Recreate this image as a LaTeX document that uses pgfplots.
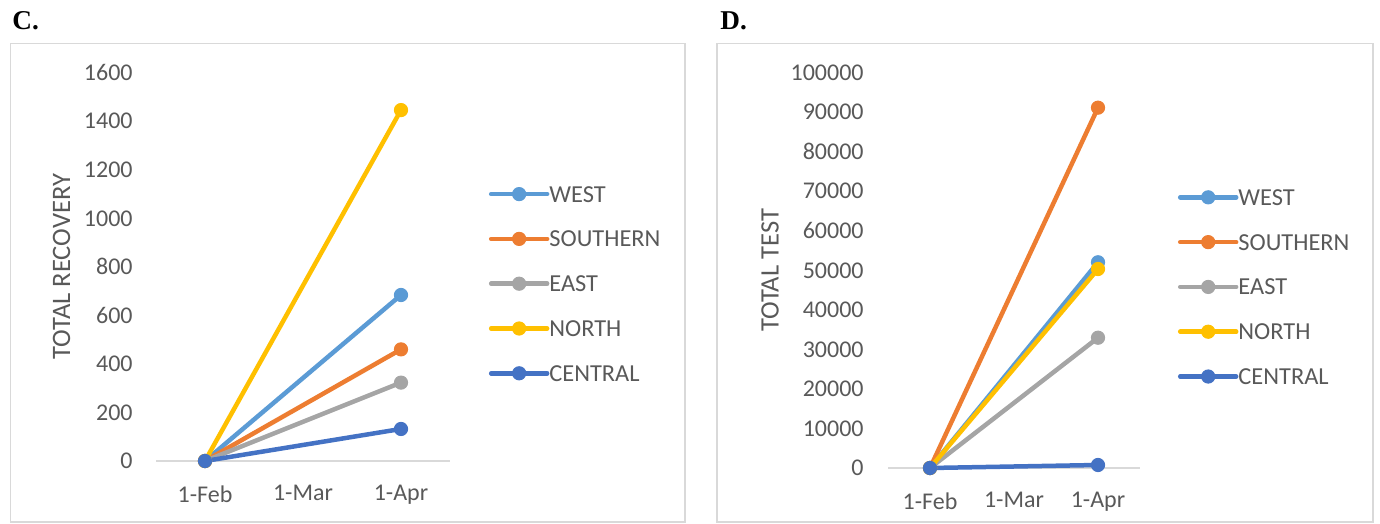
\documentclass[border=0pt]{standalone}
\usepackage{fontspec}
\setmainfont{Carlito}
\newfontfamily\titlefont{Liberation Serif}
\usepackage{pgfplots}
\pgfplotsset{compat=1.18}
\definecolor{cWest}{HTML}{5B9BD5}
\definecolor{cSouth}{HTML}{ED7D31}
\definecolor{cEast}{HTML}{A5A5A5}
\definecolor{cNorth}{HTML}{FFC000}
\definecolor{cCentral}{HTML}{4472C4}
\definecolor{txt}{HTML}{595959}
\definecolor{lgrey}{HTML}{D9D9D9}
\pgfplotsset{
 excel/.style={
  scale only axis, clip=false,
  axis lines*=left,
  y axis line style={draw=none},
  x axis line style={draw=lgrey, line width=0.75pt},
  major tick length=0pt,
  xmin=-0.5,xmax=2.5,ymin=0,
  xtick={0,1,2}, xticklabels={1-Feb,1-Mar,1-Apr},
  tick label style={font=\fontsize{12}{14}\selectfont, text=txt},
  /pgf/number format/assume math mode=true,
  /pgf/number format/fixed,
  /pgf/number format/precision=0,
  /pgf/number format/1000 sep={},
  scaled y ticks=false,
  yticklabel style={anchor=east, inner sep=0pt},
  xticklabel style={anchor=north, inner sep=0pt, yshift=-12pt},
  ylabel style={font=\fontsize{13.3}{15}\selectfont, text=txt, anchor=center},
  every axis plot/.append style={line width=2.25pt, line cap=round, line join=round, mark=*, mark size=3.3pt, mark options={solid, line width=0.5pt}},
  legend image code/.code={\draw[##1, mark repeat=2, mark phase=2] plot coordinates {(0pt,0pt) (14pt,0pt) (28pt,0pt)};},
  legend cell align=left,
  legend style={draw=none, fill=none, inner sep=0pt, row sep=14.4pt, column sep=0pt, font=\fontsize{12.2}{14}\selectfont, text=txt, nodes={inner sep=0pt, text height=8pt, text depth=0pt}, anchor=north west},
 }
}
\begin{document}
\begin{tikzpicture}
\useasboundingbox (0pt,0pt) rectangle (690pt,262pt);
\draw[lgrey, line width=0.75pt] (5.25pt,240.25pt) rectangle (342.5pt,1pt);
\draw[lgrey, line width=0.75pt] (358.5pt,240.25pt) rectangle (686.5pt,1pt);
\node[anchor=base west, inner sep=0pt, font=\titlefont\bfseries\fontsize{13.6}{15}\selectfont] at (6pt,247pt) {C.};
\node[anchor=base west, inner sep=0pt, font=\titlefont\bfseries\fontsize{13.6}{15}\selectfont] at (360pt,247pt) {D.};
\begin{axis}[excel, at={(78pt,31.5pt)}, anchor=south west,
  width=147pt, height=194.15pt, ymax=1600, ytick={0,200,...,1600},
  yticklabel style={xshift=-11.5pt},
  ylabel={TOTAL RECOVERY},
  ylabel style={at={(axis description cs:-0.321,0.5)}},
  legend style={at={(1.131,0.709)}}]
\addplot[cWest] coordinates {(0,0) (2,684)};
\addplot[cSouth] coordinates {(0,0) (2,460)};
\addplot[cEast] coordinates {(0,0) (2,323)};
\addplot[cNorth] coordinates {(0,0) (2,1446)};
\addplot[cCentral] coordinates {(0,0) (2,132)};
\legend{WEST,SOUTHERN,EAST,NORTH,CENTRAL}
\end{axis}
\begin{axis}[excel, at={(444pt,28pt)}, anchor=south west,
  width=126pt, height=197.65pt, ymax=100000, ytick={0,10000,...,100000},
  yticklabel style={xshift=-12pt},
  ylabel={TOTAL TEST},
  ylabel style={at={(axis description cs:-0.468,0.5)}},
  legend style={at={(1.149,0.706)}}]
\addplot[cWest] coordinates {(0,0) (2,52040)};
\addplot[cSouth] coordinates {(0,0) (2,91150)};
\addplot[cEast] coordinates {(0,0) (2,32960)};
\addplot[cNorth] coordinates {(0,0) (2,50340)};
\addplot[cCentral] coordinates {(0,0) (2,760)};
\legend{WEST,SOUTHERN,EAST,NORTH,CENTRAL}
\end{axis}
\end{tikzpicture}
\end{document}
